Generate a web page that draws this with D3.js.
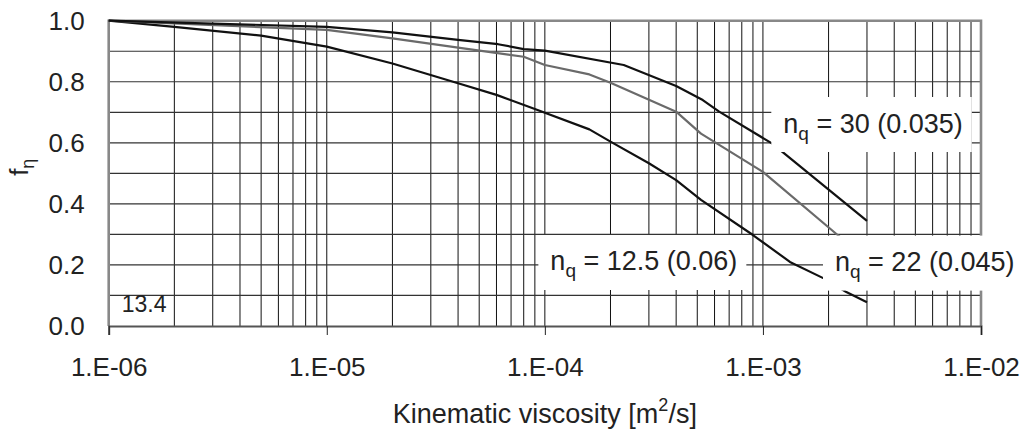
<!DOCTYPE html>
<html>
<head>
<meta charset="utf-8">
<script src="https://cdn.jsdelivr.net/npm/d3@7"></script>
<style>
  body { margin: 0; background: #fff; }
  svg { display: block; font-family: "Liberation Sans", Arial, sans-serif; }
  .tick text { fill: #222; }
</style>
</head>
<body>
<svg width="1023" height="432"></svg>
<script>
// n_q = 12.5 (0.06)
const visc125 = [1e-6, 2e-6, 5e-6, 1e-5, 2e-5, 4e-5, 6e-5, 9e-5, 1.6e-4, 2e-4, 3e-4, 4e-4, 5.2e-4, 9e-4, 1.33e-3, 1.9e-3, 2.4e-3, 3e-3];
const f125 = [1.0, 0.98, 0.951, 0.915, 0.86, 0.795, 0.757, 0.711, 0.644, 0.604, 0.533, 0.478, 0.413, 0.298, 0.21, 0.156, 0.112, 0.078];
// n_q = 22 (0.045)
const visc22 = [1e-6, 1e-5, 2e-5, 4e-5, 8e-5, 1e-4, 1.6e-4, 2e-4, 4e-4, 5.2e-4, 1e-3, 2.2e-3, 3e-3];
const f22 = [1.0, 0.97, 0.942, 0.912, 0.882, 0.855, 0.824, 0.797, 0.702, 0.63, 0.505, 0.298, 0.22];
// n_q = 30 (0.035)
const visc30 = [1e-6, 1e-5, 2e-5, 4e-5, 6.1e-5, 8e-5, 1e-4, 2.3e-4, 4e-4, 5.3e-4, 6.3e-4, 1.1e-3, 3e-3];
const f30 = [1.0, 0.98, 0.962, 0.937, 0.923, 0.907, 0.902, 0.855, 0.786, 0.74, 0.702, 0.598, 0.344];

const xTickValues = [1e-6, 1e-5, 1e-4, 1e-3, 1e-2];
const xTickLabels = ["1.E-06", "1.E-05", "1.E-04", "1.E-03", "1.E-02"];
const yTickValues = [0, 0.2, 0.4, 0.6, 0.8, 1.0];

// label boxes: text, anchor viscosity, anchor f
const labelNq = ["30 (0.035)", "12.5 (0.06)", "22 (0.045)"];
const labelVisc = [1.24e-3, 1.06e-4, 2.14e-3];
const labelF = [0.66, 0.208, 0.206];

const svg = d3.select('svg');
const width = +svg.attr('width');
const height = +svg.attr('height');
const margin = { left: 108.7, right: 42, top: 20.7, bottom: 106 };

const x = d3.scaleLog()
    .domain([1e-6, 1e-2])
    .range([margin.left, width - margin.right]);
const y = d3.scaleLinear()
    .domain([0, 1])
    .range([height - margin.bottom, margin.top]);

const g = svg.append('g');

// vertical grid (1..9 per decade)
g.append('g').selectAll('line')
    .data(x.ticks())
    .join('line')
    .attr('x1', d => x(d)).attr('x2', d => x(d))
    .attr('y1', y(0)).attr('y2', y(1))
    .attr('stroke', '#111')
    .attr('stroke-width', 1);

// horizontal grid
g.append('g').selectAll('line')
    .data(d3.range(1, 10).map(i => i / 10))
    .join('line')
    .attr('x1', x(1e-6)).attr('x2', x(1e-2))
    .attr('y1', d => y(d)).attr('y2', d => y(d))
    .attr('stroke', '#333')
    .attr('stroke-width', 1.2);

// frame
g.append('path')
    .attr('d', `M${x(1e-6)},${y(0)}V${y(1)}H${x(1e-2)}V${y(0)}`)
    .attr('fill', 'none')
    .attr('stroke', '#888')
    .attr('stroke-width', 2.6);

// x axis
const xAxis = d3.axisBottom(x)
    .tickValues(xTickValues)
    .tickFormat((d, i) => xTickLabels[i])
    .tickSize(9)
    .tickPadding(23);
const xAxisG = g.append('g')
    .attr('transform', `translate(0,${y(0)})`)
    .call(xAxis);
xAxisG.select('.domain').attr('stroke', '#555').attr('stroke-width', 2);
xAxisG.selectAll('.tick line').attr('stroke', '#222');
xAxisG.selectAll('text').attr('font-size', 26);

// y axis
const yAxis = d3.axisLeft(y)
    .tickValues(yTickValues)
    .tickFormat(d3.format('.1f'))
    .tickSize(0)
    .tickPadding(24);
const yAxisG = g.append('g')
    .attr('transform', `translate(${x(1e-6)},0)`)
    .call(yAxis);
yAxisG.select('.domain').remove();
yAxisG.selectAll('text').attr('font-size', 26);

// curves
const line = d3.line().x(d => x(d[0])).y(d => y(d[1]));
const series = [
    { v: visc125, f: f125, color: '#111' },
    { v: visc22, f: f22, color: '#6a6a6a' },
    { v: visc30, f: f30, color: '#111' }
];
g.append('g').selectAll('path')
    .data(series)
    .join('path')
    .attr('d', s => line(d3.zip(s.v, s.f)))
    .attr('fill', 'none')
    .attr('stroke', s => s.color)
    .attr('stroke-width', 2.2)
    .attr('stroke-linejoin', 'round');

// label boxes
labelNq.forEach((t, i) => {
    const lg = g.append('g')
        .attr('transform', `translate(${x(labelVisc[i])},${y(labelF[i])})`);
    const rect = lg.append('rect').attr('fill', '#fff');
    const txt = lg.append('text')
        .attr('y', 8)
        .attr('font-size', 27)
        .attr('fill', '#222');
    txt.append('tspan').text('n');
    txt.append('tspan').attr('font-size', 19).attr('dy', 7).text('q');
    txt.append('tspan').attr('dy', -7).text(' = ' + t);
    const w = txt.node().getComputedTextLength();
    rect.attr('x', -12).attr('y', -27.5).attr('width', w + 21).attr('height', 55);
});

// case number
g.append('text')
    .attr('x', x(1e-6) + 13)
    .attr('y', y(0) - 14)
    .attr('font-size', 23)
    .attr('fill', '#222')
    .text('13.4');

// y label
const yl = g.append('text')
    .attr('transform', `translate(28,${y(0.52)}) rotate(-90)`)
    .attr('text-anchor', 'middle')
    .attr('font-size', 26)
    .attr('fill', '#222');
yl.append('tspan').text('f');
yl.append('tspan').attr('font-size', 18).attr('dy', 6).text('η');

// x label
const xl = g.append('text')
    .attr('x', (x(1e-6) + x(1e-2)) / 2)
    .attr('y', 423)
    .attr('text-anchor', 'middle')
    .attr('font-size', 27)
    .attr('fill', '#222');
xl.append('tspan').text('Kinematic viscosity [m');
xl.append('tspan').attr('font-size', 18).attr('dy', -12).text('2');
xl.append('tspan').attr('dy', 12).text('/s]');
</script>
</body>
</html>
